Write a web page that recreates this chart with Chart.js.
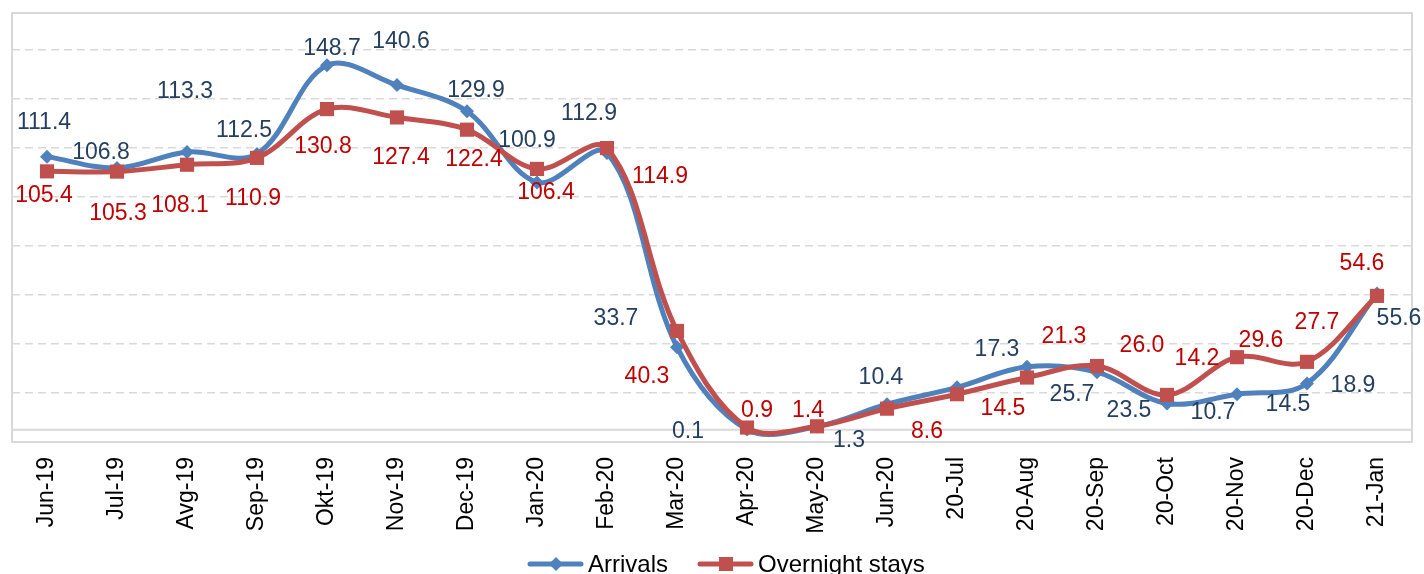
<!DOCTYPE html>
<html>
<head>
<meta charset="utf-8">
<script src="https://cdn.jsdelivr.net/npm/chart.js@4.4.1/dist/chart.umd.min.js"></script>
<style>
  html, body { margin: 0; padding: 0; background: #fff; }
  #wrap { width: 1424px; height: 574px; }
</style>
</head>
<body>
<div id="wrap"><canvas id="chart" width="1424" height="574"></canvas></div>
<script>
// === Data ===
const months = ['Jun-19', 'Jul-19', 'Avg-19', 'Sep-19', 'Okt-19', 'Nov-19', 'Dec-19', 'Jan-20',
  'Feb-20', 'Mar-20', 'Apr-20', 'May-20', 'Jun-20', '20-Jul', '20-Aug', '20-Sep', '20-Oct',
  '20-Nov', '20-Dec', '21-Jan'];
const arrivals = [111.4, 106.8, 113.3, 112.5, 148.7, 140.6, 129.9, 100.9, 112.9, 33.7,
  0.1, 1.3, 10.4, 17.3, 25.7, 23.5, 10.7, 14.5, 18.9, 55.6];
const overnightStays = [105.4, 105.3, 108.1, 110.9, 130.8, 127.4, 122.4, 106.4, 114.9, 40.3,
  0.9, 1.4, 8.6, 14.5, 21.3, 26.0, 14.2, 29.6, 27.7, 54.6];
const gridValues = [15, 35, 55, 75, 95, 115, 135, 155];

// where each value label sits relative to its marker (px)
const arrivalsLabelOffsets = [[-3, -34], [-16, -15], [-2, -60], [-13, -23], [5, -17], [4, -43],
  [9, -21], [-10, -42], [-18, -39], [-61, -28], [-59, 2], [32, 14], [-6, -27], [40, -38],
  [45, 28], [32, 39], [46, 9], [51, 10], [46, 2], [22, 25]];
const staysLabelOffsets = [[-3, 24], [1, 42], [-7, 41], [-4, 41], [-4, 38], [4, 40], [7, 30],
  [9, 24], [53, 29], [-30, 46], [10, -17], [-9, -16], [40, 23], [46, 14], [37, -41], [45, -20],
  [30, -36], [24, -17], [10, -39], [-15, -32]];

const FONT = '"Liberation Sans", Arial, sans-serif';
const BLUE = '#4F81BD';
const RED = '#C0504D';

// === Plot frame + zero line ===
const plotFrame = {
  id: 'plotFrame',
  beforeDatasetsDraw(chart) {
    const { ctx, chartArea: a, scales } = chart;
    ctx.save();
    ctx.strokeStyle = '#D9D9D9';
    ctx.lineWidth = 2;
    ctx.strokeRect(a.left, a.top, a.right - a.left, a.bottom - a.top);
    const y0 = scales.y.getPixelForValue(0);
    ctx.beginPath();
    ctx.moveTo(a.left, y0);
    ctx.lineTo(a.right, y0);
    ctx.stroke();
    ctx.restore();
  }
};

// === Value labels ===
const valueLabels = {
  id: 'valueLabels',
  afterDatasetsDraw(chart) {
    const { ctx } = chart;
    const specs = [
      { idx: 0, color: '#243F60', offsets: arrivalsLabelOffsets },
      { idx: 1, color: '#C00000', offsets: staysLabelOffsets }
    ];
    ctx.save();
    ctx.font = '23px ' + FONT;
    ctx.textAlign = 'center';
    ctx.textBaseline = 'middle';
    specs.forEach(s => {
      const meta = chart.getDatasetMeta(s.idx);
      const values = chart.data.datasets[s.idx].data;
      ctx.fillStyle = s.color;
      meta.data.forEach((pt, i) => {
        const [dx, dy] = s.offsets[i];
        ctx.fillText(values[i].toFixed(1), pt.x + dx, pt.y + dy);
      });
    });
    ctx.restore();
  }
};

// === Legend (line + marker samples) ===
const lineLegend = {
  id: 'lineLegend',
  afterDraw(chart) {
    const { ctx } = chart;
    const y = 564;
    const items = [
      { text: 'Arrivals', color: BLUE, x: 528, marker: 'diamond' },
      { text: 'Overnight stays', color: RED, x: 698, marker: 'square' }
    ];
    ctx.save();
    items.forEach(it => {
      ctx.strokeStyle = it.color;
      ctx.fillStyle = it.color;
      ctx.lineWidth = 5;
      ctx.lineCap = 'round';
      ctx.beginPath();
      ctx.moveTo(it.x + 2, y);
      ctx.lineTo(it.x + 53, y);
      ctx.stroke();
      const cx = it.x + 28;
      ctx.beginPath();
      if (it.marker === 'diamond') {
        ctx.moveTo(cx, y - 7);
        ctx.lineTo(cx + 7, y);
        ctx.lineTo(cx, y + 7);
        ctx.lineTo(cx - 7, y);
        ctx.closePath();
      } else {
        ctx.rect(cx - 7, y - 7, 14, 14);
      }
      ctx.fill();
      ctx.fillStyle = '#000';
      ctx.font = '24px ' + FONT;
      ctx.textAlign = 'left';
      ctx.textBaseline = 'alphabetic';
      ctx.fillText(it.text, it.x + 60, y + 8);
    });
    ctx.restore();
  }
};

new Chart(document.getElementById('chart'), {
  type: 'line',
  data: {
    labels: months,
    datasets: [
      {
        label: 'Arrivals',
        data: arrivals,
        borderColor: BLUE,
        backgroundColor: BLUE,
        borderWidth: 5,
        pointStyle: 'rectRot',
        pointRadius: 7,
        pointBorderWidth: 0,
        tension: 0.35,
        order: 1
      },
      {
        label: 'Overnight stays',
        data: overnightStays,
        borderColor: RED,
        backgroundColor: RED,
        borderWidth: 5,
        pointStyle: 'rect',
        pointRadius: 10,
        pointBorderWidth: 0,
        tension: 0.35,
        order: 0
      }
    ]
  },
  options: {
    responsive: false,
    animation: false,
    layout: { padding: { left: 12, right: 12, top: 13, bottom: 0 } },
    plugins: {
      legend: { display: false },
      tooltip: { enabled: false }
    },
    scales: {
      x: {
        offset: true,
        grid: { display: false, drawTicks: false },
        border: { display: false },
        ticks: {
          autoSkip: false,
          minRotation: 90,
          maxRotation: 90,
          padding: 15,
          color: '#000',
          font: { family: FONT, size: 23 }
        },
        afterFit(scale) { scale.height = 132; }
      },
      y: {
        min: -5,
        max: 170,
        grid: { color: '#D9D9D9', lineWidth: 1.5, drawTicks: false },
        border: { display: false, dash: [8, 5] },
        ticks: { display: false },
        afterBuildTicks(scale) { scale.ticks = gridValues.map(v => ({ value: v })); },
        afterFit(scale) { scale.width = 0; }
      }
    }
  },
  plugins: [plotFrame, valueLabels, lineLegend]
});
</script>
</body>
</html>
